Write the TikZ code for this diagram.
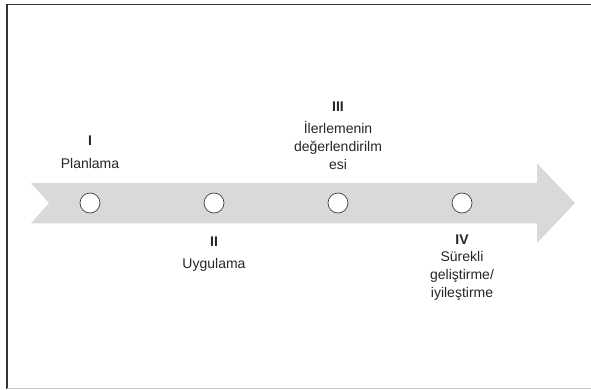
\documentclass[tikz,border=0pt]{standalone}
\usepackage{fontspec}
\setmainfont{Liberation Sans}
\begin{document}
\begin{tikzpicture}[x=1pt,y=-1pt,
  milestone/.style={draw=black!75,fill=white,line width=0.7pt,ellipse,minimum width=19.5pt,minimum height=21pt,inner sep=0pt},
  lbl/.style={align=center,font=\fontsize{14}{18}\selectfont,inner sep=0pt,text=black!85},
  num/.style={font=\fontsize{14}{18}\selectfont\bfseries,inner sep=0pt,text=black!85}]
\useasboundingbox (0,0) rectangle (591,389);
\fill[white] (0,0) rectangle (591,389);
% frame
\draw[black!80,line width=1.2pt] (7,389) -- (7,4.5) -- (591,4.5);
\draw[black!20,line width=1pt] (7,388) -- (591,388);
% arrow
\fill[gray!30] (31,183) -- (537,183) -- (537,163.5) -- (575,203) -- (537,243) -- (537,223.3) -- (31,223.3) -- (49,203) -- cycle;
% milestones
\node[draw=black!75,fill=white,line width=0.7pt,circle,minimum size=20pt,inner sep=0pt] (m1) at (90,203) {};
\node[draw=black!75,fill=white,line width=0.7pt,circle,minimum size=20pt,inner sep=0pt] (m2) at (214,203) {};
\node[draw=black!75,fill=white,line width=0.7pt,circle,minimum size=20pt,inner sep=0pt] (m3) at (338,203) {};
\node[draw=black!75,fill=white,line width=0.7pt,circle,minimum size=20pt,inner sep=0pt] (m4) at (462,203) {};
% labels
\node[num] (n1) at (90,141) {I};
\node[lbl] (t1) at (90,163) {Planlama};
\node[num] (n2) at (214,242) {II};
\node[lbl] (t2) at (214,265) {Uygulama};
\node[num] (n3) at (338,107) {III};
\node[lbl,anchor=north] (t3) at (338,121) {İlerlemenin\\değerlendirilm\\esi};
\node[num] (n4) at (462,240) {IV};
\node[lbl,anchor=north] (t4) at (462,251) {Sürekli\\geliştirme/\\iyileştirme};
\end{tikzpicture}
\end{document}
